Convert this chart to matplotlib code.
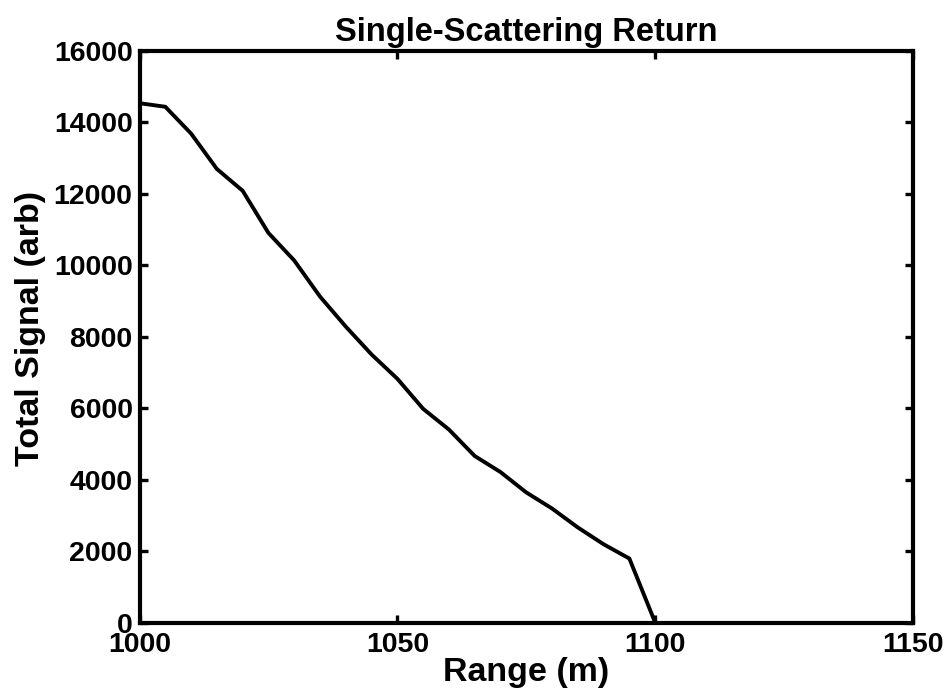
import matplotlib
matplotlib.use("Agg")
import matplotlib.pyplot as plt

plt.rcParams['font.family'] = ['Liberation Sans', 'DejaVu Sans']
plt.rcParams['font.weight'] = 'bold'

range_m = [1000, 1005, 1010, 1015, 1020, 1025, 1030, 1035, 1040, 1045, 1050,
           1055, 1060, 1065, 1070, 1075, 1080, 1085, 1090, 1095, 1100]
signal = [14530, 14430, 13680, 12690, 12080, 10900, 10130, 9120, 8280, 7500, 6820,
          5980, 5400, 4660, 4210, 3640, 3190, 2660, 2190, 1790, 0]

xticks = [1000, 1050, 1100, 1150]
yticks = list(range(0, 16001, 2000))

fig = plt.figure(figsize=(9.53, 6.94), dpi=100)
ax = fig.add_axes([0.1464, 0.103, 0.8116, 0.824])
ax.plot(range_m, signal, color='k', linewidth=2.8, solid_joinstyle='miter')

ax.set_xlim(1000, 1150)
ax.set_ylim(0, 16000)
ax.set_xticks(xticks)
ax.set_yticks(yticks)
ax.tick_params(direction='in', length=6, width=2.4, labelsize=20.5,
               top=True, right=True)
ax.tick_params(axis='x', pad=7)
ax.tick_params(axis='y', pad=5)
for lab in ax.get_xticklabels() + ax.get_yticklabels():
    lab.set_fontweight('bold')
for s in ax.spines.values():
    s.set_linewidth(3)

ax.set_xlabel('Range (m)', fontsize=24.5, fontweight='bold', labelpad=-1)
ax.set_ylabel('Total Signal (arb)', fontsize=24.5, fontweight='bold')
ax.yaxis.set_label_coords(-0.121, 0.515)
ax.set_title('Single-Scattering Return', fontsize=23.5, fontweight='bold', pad=7)

fig.savefig('out.png', dpi=100)
